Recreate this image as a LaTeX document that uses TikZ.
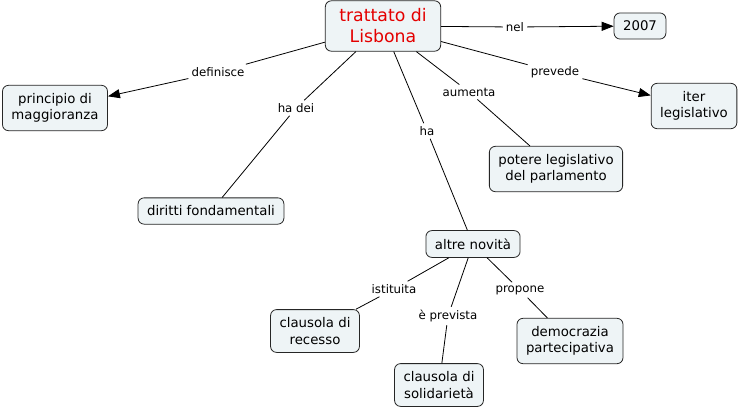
\documentclass[tikz,border=0pt]{standalone}
\usepackage{fontspec}
\setmainfont{DejaVu Sans}
\usetikzlibrary{positioning}
\usetikzlibrary{arrows.meta}
\definecolor{conceptfill}{RGB}{238,244,246}
\definecolor{titlered}{RGB}{228,0,0}

\begin{document}
\begin{tikzpicture}[x=1pt, y=-1pt,
    concept/.style  = {draw=black!85, fill=conceptfill, rounded corners=6pt,
                       line width=0.8pt, align=center, inner xsep=9pt, inner ysep=8pt,
                       font=\fontsize{13.3}{16.5}\selectfont},
    linkword/.style = {inner sep=3pt, font=\fontsize{11.8}{14}\selectfont},
    link/.style     = {draw, line width=0.8pt},
    linkarrow/.style = {link, -{Triangle[length=12pt,width=9pt]}}]
    \fill[white] (0,0) rectangle (741,410);
    \useasboundingbox (0,0) rectangle (741,410);

    % concepts
    \node (trattato)   at (383,26)  [concept, inner xsep=14pt, text=titlered,
                                     font=\fontsize{17.3}{21}\selectfont] {trattato di\\Lisbona};
    \node (anno)       at (640,26)  [concept] {2007};
    \node (principio)  at (55,108)  [concept] {principio di\\maggioranza};
    \node (iter)       at (694,106) [concept] {iter\\legislativo};
    \node (potere)     at (556,169) [concept] {potere legislativo\\del parlamento};
    \node (diritti)    at (211,211) [concept] {diritti fondamentali};
    \node (novita)     at (473,244) [concept] {altre novità};
    \node (recesso)    at (315,331) [concept] {clausola di\\recesso};
    \node (democrazia) at (570,341) [concept] {democrazia\\partecipativa};
    \node (solidarieta) at (439,385) [concept] {clausola di\\solidarietà};

    % linking words
    \node (nel)       at (515,27)  [linkword] {nel};
    \node (definisce) at (218,72)  [linkword] {definisce};
    \node (hadei)     at (296,108) [linkword] {ha dei};
    \node (ha)        at (427,131) [linkword] {ha};
    \node (aumenta)   at (469,92)  [linkword] {aumenta};
    \node (prevede)   at (555,72)  [linkword] {prevede};
    \node (istituita) at (394,289) [linkword] {istituita};
    \node (prevista)  at (448,316) [linkword] {è prevista};
    \node (propone)   at (520,290) [linkword] {propone};

    \draw[link] (trattato) -- (nel);
    \draw[linkarrow] (nel) -- (anno);
    \draw[link] (trattato) -- (definisce);
    \draw[linkarrow] (definisce) -- (principio);
    \draw[link] (trattato) -- (hadei) -- (diritti);
    \draw[link] (trattato) -- (ha) -- (novita);
    \draw[link] (trattato) -- (aumenta) -- (potere);
    \draw[link] (trattato) -- (prevede);
    \draw[linkarrow] (prevede) -- (iter);

    \draw[link] (novita) -- (istituita) -- (recesso);
    \draw[link] (novita) -- (prevista) -- (solidarieta);
    \draw[link] (novita) -- (propone) -- (democrazia);
\end{tikzpicture}
\end{document}
